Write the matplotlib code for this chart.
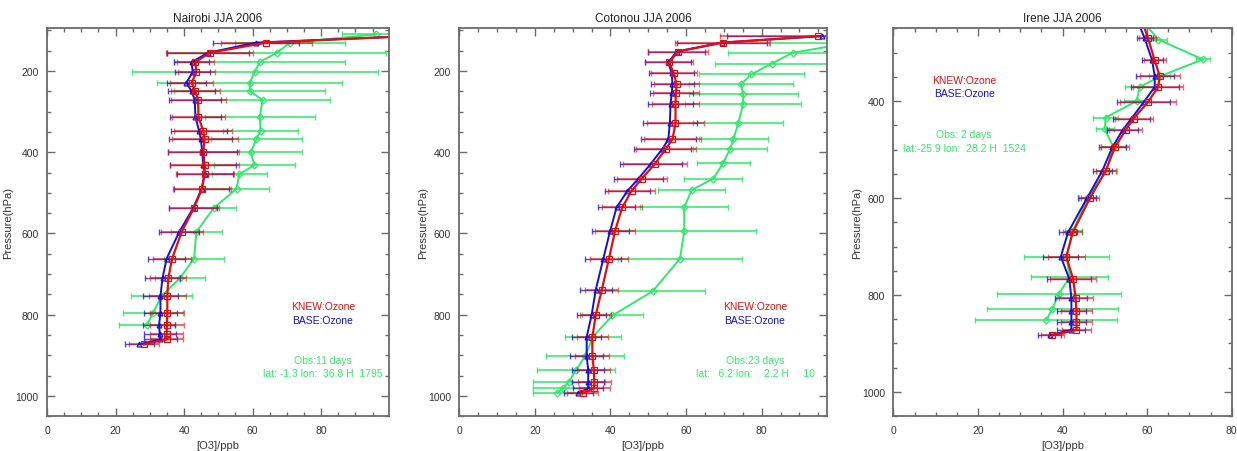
import numpy as np
import matplotlib.pyplot as plt
from matplotlib.ticker import MultipleLocator

plt.rcParams['font.family'] = ['Liberation Sans Narrow', 'Liberation Sans', 'DejaVu Sans']

# ---- Nairobi ----
nai_p_mod = [110, 130, 155, 178, 202, 229, 250, 271, 313, 348, 368, 400, 432, 454, 490, 537,
             596, 662, 710, 754, 795, 825, 848, 861, 873]
nai_knew = [116, 64.0, 47.5, 43.3, 43.6, 42.2, 43.3, 44.1, 44.2, 45.6, 46.0, 45.6, 46.0, 46.0,
            45.2, 42.9, 39.3, 36.5, 35.4, 35.1, 35.1, 35.0, 34.9, 34.9, 28.3]
nai_knew_sd = [14, 13.3, 12.7, 5.4, 5.4, 6.3, 7.2, 8, 7.7, 8.5, 9.6, 10.4, 10, 8.5, 8.4, 7.4,
               6.1, 5.6, 5.3, 5.4, 5.0, 4.9, 4.8, 4.9, 4.4]
nai_base = [118, 61, 47.0, 42.2, 42.5, 40.7, 42.2, 43.1, 43.3, 44.4, 44.9, 45.3, 45.6, 46.0,
            45.1, 42.7, 38.6, 34.9, 33.7, 33.1, 33.1, 32.7, 32.9, 33.1, 26.9]
nai_base_sd = [13, 12.5, 12, 5.2, 5.2, 5.6, 6.8, 7.6, 7.4, 8.2, 9.2, 10, 9.6, 8.2, 8.0, 7.0,
               5.8, 5.3, 5.0, 5.1, 4.8, 4.7, 4.6, 4.7, 4.2]
nai_p_obs = [110, 130, 155, 178, 202, 229, 250, 271, 313, 348, 368, 400, 432, 454, 490, 537,
             596, 662, 710, 754, 795, 825]
nai_obs = [96, 71, 67, 62.1, 60.6, 59.2, 59.2, 62.9, 62.1, 62.3, 61.1, 59.5, 60.5, 56.1, 55.3,
           48.7, 43.6, 42.9, 38.8, 33.4, 31.0, 29.2]
nai_obs_sd = [10, 16, 32, 24.9, 35.9, 27, 22, 19.8, 16, 11, 13.3, 15, 11.9, 8, 9.4, 6.5,
              7.5, 8.8, 7.4, 8.9, 8.8, 8.2]

# ---- Cotonou ----
cot_p_mod = [114, 130, 152, 179, 206, 233, 255, 280, 329, 368, 391, 428, 465, 495, 536, 594,
             662, 739, 801, 855, 902, 936, 965, 981, 994]
cot_knew = [95.0, 69.7, 57.9, 55.5, 56.8, 57.5, 57.3, 57.2, 57.2, 56.4, 54.7, 51.8, 48.3, 45.6,
            43.1, 41.2, 39.6, 37.7, 36.1, 35.2, 35.2, 35.6, 35.7, 35.7, 32.6]
cot_knew_sd = [26, 12.6, 8, 6.4, 6.2, 6, 6, 6.3, 7.6, 7.6, 7.9, 8.5, 6.7, 6.3, 5.3, 5.2, 5.0,
               4.4, 4.1, 4.1, 4.5, 4.4, 4.4, 4.1, 4.0]
cot_base = [95.9, 69.5, 57.5, 55.3, 56.2, 56.4, 56.2, 55.9, 55.7, 55.3, 53.8, 50.7, 47.4, 44.5,
            41.6, 39.9, 38.1, 36.1, 35.0, 33.7, 33.7, 34.1, 34.1, 34.1, 31.5]
cot_base_sd = [25, 12, 7.6, 6.1, 5.9, 5.7, 5.7, 6.0, 7.2, 7.2, 7.5, 8.1, 6.4, 6.0, 5.0, 4.9,
               4.8, 4.2, 3.9, 3.9, 4.3, 4.2, 4.2, 3.9, 3.8]
cot_p_obs = [130, 155, 182, 208, 233, 257, 282, 329, 368, 393, 427, 465, 493, 536, 595, 662,
             742, 802, 854, 902, 936, 965, 981, 992]
cot_obs = [104, 88.2, 82.6, 77.3, 74.5, 75.1, 75.1, 73.8, 72.5, 71.6, 69.8, 67.2, 61.5, 59.5,
           59.5, 58.4, 51.2, 40.5, 35.4, 33.3, 30.9, 29.0, 27.5, 25.9]
cot_obs_sd = [22, 17, 15, 14, 13.7, 14.4, 15.4, 11.9, 9.2, 9.9, 7, 7.7, 8.9, 11.7, 19, 16.3,
              13.8, 8, 7.5, 10.4, 10.3, 9.5, 8, 6.5]

# ---- Irene ----
ire_p_mod = [240, 270, 316, 349, 371, 402, 436, 460, 495, 544, 600, 671, 721, 767, 806, 834,
             855, 872, 883]
ire_knew = [59.0, 60.2, 61.8, 63.0, 62.6, 60.2, 56.8, 54.9, 52.4, 50.2, 46.5, 42.4, 40.9, 42.5,
            43.1, 43.3, 43.3, 43.3, 37.6]
ire_knew_sd = [2, 2, 2.6, 4.7, 6, 6.6, 4.5, 3.8, 3.3, 2.4, 2.2, 2.2, 4.3, 5.5, 4, 3.7, 3.7,
               3.5, 2.8]
ire_base = [58.0, 59.4, 61.2, 61.8, 61.8, 59.2, 56.3, 54.2, 51.8, 49.4, 45.8, 41.3, 39.6, 41.6,
            42.1, 42.1, 42.1, 42.1, 37.0]
ire_base_sd = [1.9, 1.9, 2.5, 4.5, 5.7, 6.3, 4.3, 3.6, 3.1, 2.3, 2.1, 2.1, 4.1, 5.2, 3.8, 3.5,
               3.5, 3.3, 2.7]
ire_p_obs = [240, 273, 314, 349, 371, 400, 434, 458, 494, 544, 600, 669, 721, 763, 797, 828, 852]
ire_obs = [59.5, 62.6, 73.2, 63.0, 58.3, 57.5, 50.2, 50.0, 52.0, 50.4, 45.9, 42.5, 40.9, 41.7,
           39.2, 37.6, 36.2]
ire_obs_sd = [1, 2, 1.6, 2.5, 3.5, 3, 3, 2.2, 3, 2.4, 2, 2, 10, 9.1, 14.7, 15.5, 16.8]

titles = ['Nairobi JJA 2006', 'Cotonou JJA 2006', 'Irene JJA 2006']
obs_days = ['Obs:11 days', 'Obs:23 days', 'Obs: 2 days']
site_info = ['lat: -1.3 lon:  36.8 H  1795',
             'lat:   6.2 lon:    2.2 H     10',
             'lat:-25.9 lon:  28.2 H  1524']

RED = '#e01010'
BLUE = '#1010e0'
GREEN = '#30e86a'
FRAME = '#6a6a6a'

panels = [
    (nai_p_mod, nai_knew, nai_knew_sd, nai_base, nai_base_sd, nai_p_obs, nai_obs, nai_obs_sd),
    (cot_p_mod, cot_knew, cot_knew_sd, cot_base, cot_base_sd, cot_p_obs, cot_obs, cot_obs_sd),
    (ire_p_mod, ire_knew, ire_knew_sd, ire_base, ire_base_sd, ire_p_obs, ire_obs, ire_obs_sd),
]
# axes rect, xmax, ytop, ylabel x, text x, text y positions
layout = [
    ([0.038, 0.077, 0.2765, 0.858], 99.8, 95, -0.099, 0.807, [0.283, 0.249, 0.144, 0.111]),
    ([0.3713, 0.077, 0.297, 0.858], 97.2, 95, -0.085, 0.805, [0.283, 0.249, 0.144, 0.111]),
    ([0.7222, 0.077, 0.2735, 0.858], 80, 250, -0.093, 0.209, [0.866, 0.833, 0.727, 0.692]),
]

fig = plt.figure(figsize=(12.37, 4.52), dpi=100)

for i, (data, lay) in enumerate(zip(panels, layout)):
    p_mod, knew, knew_sd, base, base_sd, p_obs, obs, obs_sd = data
    rect, xmax, ytop, ylx, tx, ty = lay
    ax = fig.add_axes(rect)

    # error bars first, then the profiles on top
    ax.errorbar(obs, p_obs, xerr=obs_sd, fmt='none', ecolor=GREEN, elinewidth=1.3,
                capsize=2, alpha=0.85)
    ax.plot(obs, p_obs, color=GREEN, lw=1.4, marker='D', ms=3.5, mfc='none', mew=0.9)
    ax.errorbar(base, p_mod, xerr=base_sd, fmt='none', ecolor=BLUE, elinewidth=1.0,
                capsize=2, alpha=0.75)
    ax.errorbar(knew, p_mod, xerr=knew_sd, fmt='none', ecolor=RED, elinewidth=1.5,
                capsize=2, alpha=0.6)
    ax.plot(base, p_mod, color=BLUE, lw=1.4, marker='^', ms=3.5, mfc='none', mew=0.9)
    ax.plot(knew, p_mod, color=RED, lw=1.6, marker='s', ms=5, mfc='none', mew=0.9)

    ax.set_xlim(0, xmax)
    ax.set_ylim(1050, ytop)
    ax.xaxis.set_major_locator(MultipleLocator(20))
    ax.xaxis.set_minor_locator(MultipleLocator(5))
    ax.yaxis.set_major_locator(MultipleLocator(200))
    ax.yaxis.set_minor_locator(MultipleLocator(50))
    ax.tick_params(which='both', direction='in', top=True, right=True,
                   color=FRAME, labelsize=7.5, labelcolor='#333333', width=1)
    ax.tick_params(which='major', length=5.5, pad=6)
    ax.tick_params(which='minor', length=3)
    for s in ax.spines.values():
        s.set_color(FRAME)
        s.set_linewidth(1.3)

    ax.set_title(titles[i], fontsize=8.5, color='#222222', pad=5)
    ax.set_xlabel('[O3]/ppb', fontsize=8, color='#333333', labelpad=4)
    ax.set_ylabel('Pressure(hPa)', fontsize=8, color='#333333')
    ax.yaxis.set_label_coords(ylx, 0.5)

    ax.text(tx, ty[0], 'KNEW:Ozone', color=RED, fontsize=7.5, ha='center', va='center',
            transform=ax.transAxes)
    ax.text(tx, ty[1], 'BASE:Ozone', color=BLUE, fontsize=7.5, ha='center', va='center',
            transform=ax.transAxes)
    ax.text(tx, ty[2], obs_days[i], color=GREEN, fontsize=7.5, ha='center', va='center',
            transform=ax.transAxes)
    ax.text(tx, ty[3], site_info[i], color=GREEN, fontsize=7.5, ha='center', va='center',
            transform=ax.transAxes)

fig.savefig('out.png', dpi=100)
